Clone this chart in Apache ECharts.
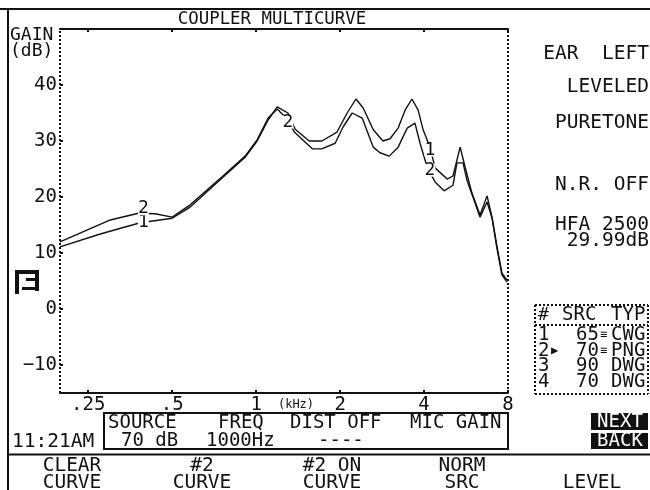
<!DOCTYPE html>
<html>
<head>
<meta charset="utf-8">
<script src="https://cdn.jsdelivr.net/npm/echarts@6/dist/echarts.min.js"></script>
<style>
html, body { margin: 0; padding: 0; background: #fff; }
#chart { width: 650px; height: 490px; }
</style>
</head>
<body>
<div id="chart"></div>
<script>
var FONT = '"DejaVu Sans Mono", monospace';

var freqTicks = [0.25, 0.5, 1, 2, 4, 8];
var freqTickLabels = ['.25', '.5', '1', '2', '4', '8'];
var gainTicks = [-10, 0, 10, 20, 30, 40];

var freq1 = [0.198, 0.276, 0.384, 0.5, 0.58, 0.755, 0.913, 1.008, 1.104, 1.19, 1.30, 1.38, 1.55, 1.72, 1.95, 2.12, 2.28, 2.42, 2.63, 2.85, 3.02, 3.23, 3.42, 3.62, 3.81, 3.97, 4.2, 4.38, 4.84, 5.08, 5.39, 5.61, 5.94, 6.35, 6.73, 7.01, 7.31, 7.61, 7.93];
var gain1 = [11.1, 13.4, 15.4, 16.2, 18.2, 23.4, 27.1, 30, 33.75, 36.1, 35, 32.1, 30, 30, 31.6, 35, 37.5, 35.9, 32, 30, 30.4, 32.3, 35.5, 37.5, 35.5, 32, 28.9, 25.2, 23.2, 23.75, 28.9, 25.4, 20.7, 16.8, 20.2, 16.4, 11.1, 6.4, 5.2];

var freq2 = [0.198, 0.30, 0.378, 0.434, 0.5, 0.58, 0.755, 0.913, 1.008, 1.104, 1.19, 1.30, 1.37, 1.59, 1.72, 1.92, 2.05, 2.21, 2.40, 2.63, 2.78, 3.0, 3.23, 3.48, 3.71, 3.87, 4.1, 4.38, 4.72, 5.08, 5.25, 5.52, 5.7, 5.99, 6.35, 6.73, 7.01, 7.31, 7.61, 7.93];
var gain2 = [12, 15.9, 17.1, 17, 16.4, 18.6, 23.6, 27.3, 30.2, 34.1, 35.7, 33.75, 31.6, 28.6, 28.6, 29.6, 32.5, 35, 34.1, 28.9, 27.9, 27.3, 28.9, 32.3, 33.2, 29.6, 25.4, 22.7, 21.1, 22.1, 26.1, 26.1, 23, 20, 16.4, 19.1, 16.25, 10.7, 6.1, 4.8];

var markFreq1 = [0.394, 4.2];
var markGain1 = [15.4, 28.4];
var markFreq2 = [0.394, 1.30, 4.2];
var markGain2 = [17.9, 33.4, 24.8];

function zip(xs, ys) {
    return xs.map(function (x, i) { return [x, ys[i]]; });
}

function curve(name, xs, ys) {
    return {
        name: name,
        type: 'line',
        data: zip(xs, ys),
        showSymbol: false,
        silent: true,
        animation: false,
        lineStyle: { color: '#111', width: 1.4 }
    };
}

function marks(text, xs, ys) {
    return {
        type: 'scatter',
        data: zip(xs, ys),
        symbolSize: 0,
        silent: true,
        animation: false,
        z: 5,
        itemStyle: { opacity: 1 },
        label: {
            show: true,
            position: 'inside',
            formatter: text,
            fontFamily: FONT,
            fontSize: 18,
            color: '#111',
            lineHeight: 13,
            backgroundColor: '#fff'
        }
    };
}

function txt(text, x, y, align, opts) {
    opts = opts || {};
    return {
        type: 'text',
        x: x,
        y: y,
        z: opts.z || 10,
        silent: true,
        style: {
            text: text,
            fontFamily: FONT,
            fontSize: opts.size || 19.5,
            fill: opts.fill || '#111',
            align: align || 'left',
            verticalAlign: 'middle'
        }
    };
}

function box(x, y, w, h, fill) {
    return { type: 'rect', silent: true, z: 9, shape: { x: x, y: y, width: w, height: h }, style: { fill: fill || '#111' } };
}

function rule(x1, y1, x2, y2, dotted) {
    return {
        type: 'line',
        silent: true,
        shape: { x1: x1, y1: y1, x2: x2, y2: y2 },
        style: { stroke: '#111', lineWidth: 2, lineDash: dotted ? [2, 2] : null }
    };
}

var graphics = [
    // screen frame
    rule(0, 9, 650, 9), rule(8, 9, 8, 490), rule(8, 454.5, 650, 454.5),
    txt('COUPLER MULTICURVE', 272, 19, 'center', { size: 17.4 }),
    txt('GAIN', 10, 35, 'left', { size: 18 }),
    txt('(dB)', 10, 51, 'left', { size: 18 }),
    txt('(kHz)', 296, 405, 'center', { size: 12 }),

    // status column
    txt('EAR  LEFT', 649, 54, 'right'),
    txt('LEVELED', 649, 87, 'right'),
    txt('PURETONE', 649, 123, 'right'),
    txt('N.R. OFF', 649, 185, 'right'),
    txt('HFA 2500', 649, 225, 'right'),
    txt('29.99dB', 649, 241, 'right'),

    // left marker
    box(15, 270, 4, 24), box(15, 270, 24, 4), box(35, 270, 4, 21), box(22, 287, 17, 3), box(26, 278, 13, 3),

    // source table
    rule(535, 305, 648, 305, true), rule(535, 325, 648, 325, true), rule(535, 394, 648, 394, true),
    rule(535, 305, 535, 394, true), rule(648, 305, 648, 394, true),
    txt('#', 538, 315, 'left', { size: 18 }), txt('SRC', 562, 315, 'left', { size: 19 }), txt('TYP', 611, 315, 'left', { size: 19 }),
    txt('1', 538, 335, 'left', { size: 19 }), txt('65', 576, 335, 'left', { size: 19 }), txt('\u2261', 600, 335, 'left', { size: 12 }), txt('CWG', 611, 335, 'left', { size: 19 }),
    txt('2', 538, 351, 'left', { size: 19 }), txt('\u25b6', 551, 351, 'left', { size: 12 }), txt('70', 576, 351, 'left', { size: 19 }), txt('\u2261', 600, 351, 'left', { size: 12 }), txt('PNG', 611, 351, 'left', { size: 19 }),
    txt('3', 538, 366, 'left', { size: 19 }), txt('90', 576, 366, 'left', { size: 19 }), txt('DWG', 611, 366, 'left', { size: 19 }),
    txt('4', 538, 382, 'left', { size: 19 }), txt('70', 576, 382, 'left', { size: 19 }), txt('DWG', 611, 382, 'left', { size: 19 }),

    // buttons
    box(591, 413, 57, 17), txt('NEXT', 620, 422, 'center', { fill: '#fff', size: 19, z: 11 }),
    box(591, 433, 57, 16), txt('BACK', 620, 441, 'center', { fill: '#fff', size: 19, z: 11 }),

    // info box
    { type: 'rect', silent: true, shape: { x: 104, y: 413, width: 404, height: 36 }, style: { fill: 'none', stroke: '#111', lineWidth: 2 } },
    txt('SOURCE', 108, 423, 'left', { size: 19 }), txt('FREQ', 218, 423, 'left', { size: 19 }), txt('DIST OFF', 290, 423, 'left', { size: 19 }), txt('MIC GAIN', 410, 423, 'left', { size: 19 }),
    txt('70 dB', 121, 441, 'left', { size: 19 }), txt('1000Hz', 206, 441, 'left', { size: 19 }), txt('----', 318, 441, 'left', { size: 19 }),
    txt('11:21AM', 12, 442),

    // soft keys
    txt('CLEAR', 72, 466, 'center'), txt('CURVE', 72, 483, 'center'),
    txt('#2', 202, 466, 'center'), txt('CURVE', 202, 483, 'center'),
    txt('#2 ON', 332, 466, 'center'), txt('CURVE', 332, 483, 'center'),
    txt('NORM', 462, 466, 'center'), txt('SRC', 462, 483, 'center'),
    txt('LEVEL', 592, 483, 'center')
];

var chart = echarts.init(document.getElementById('chart'));

var option = {
    animation: false,
    backgroundColor: '#fff',
    grid: { left: 60, right: 142, top: 29, bottom: 97 },
    xAxis: [
        {
            type: 'log',
            logBase: 2,
            min: 0.198,
            max: 8,
            position: 'bottom',
            splitLine: { show: false },
            minorTick: { show: false },
            axisLine: { onZero: false, lineStyle: { color: '#111', width: 2 } },
            axisTick: { inside: true, length: 3, customValues: freqTicks, lineStyle: { color: '#111', width: 2 } },
            axisLabel: {
                customValues: freqTicks,
                showMinLabel: true,
                showMaxLabel: true,
                margin: 3,
                color: '#111',
                fontFamily: FONT,
                fontSize: 19,
                formatter: function (v) {
                    var i = freqTicks.indexOf(Math.round(v * 100) / 100);
                    return i < 0 ? '' : freqTickLabels[i];
                }
            }
        },
        {
            type: 'log',
            logBase: 2,
            min: 0.198,
            max: 8,
            position: 'top',
            splitLine: { show: false },
            minorTick: { show: false },
            axisLine: { onZero: false, lineStyle: { color: '#111', width: 2 } },
            axisTick: { inside: true, length: 3, customValues: freqTicks, lineStyle: { color: '#111', width: 2 } },
            axisLabel: { show: false }
        }
    ],
    yAxis: [
        {
            type: 'value',
            min: -15,
            max: 50,
            position: 'left',
            splitLine: { show: false },
            axisLine: { show: true, onZero: false, lineStyle: { color: '#111', width: 2, type: [2, 2], cap: 'butt' } },
            axisTick: { inside: true, length: 3, customValues: gainTicks, lineStyle: { color: '#111', width: 2 } },
            axisLabel: {
                customValues: gainTicks,
                margin: 3,
                color: '#111',
                fontFamily: FONT,
                fontSize: 19,
                formatter: function (v) { return v < 0 ? '\u2212' + (-v) : String(v); }
            }
        },
        {
            type: 'value',
            min: -15,
            max: 50,
            position: 'right',
            splitLine: { show: false },
            axisLine: { show: true, onZero: false, lineStyle: { color: '#111', width: 2, type: [2, 2], cap: 'butt' } },
            axisTick: { show: false },
            axisLabel: { show: false }
        }
    ],
    series: [
        curve('1', freq1, gain1),
        curve('2', freq2, gain2),
        marks('1', markFreq1, markGain1),
        marks('2', markFreq2, markGain2)
    ],
    graphic: graphics
};

chart.setOption(option);
</script>
</body>
</html>
